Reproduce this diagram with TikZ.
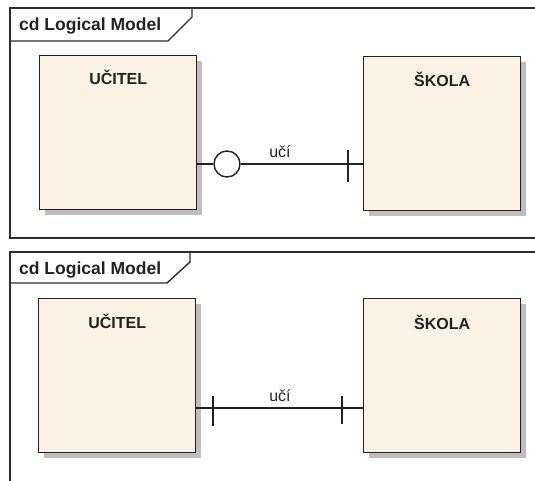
\documentclass[tikz,border=0pt]{standalone}
\usepackage{fontspec}
\setmainfont{Liberation Sans}
\usetikzlibrary{shadows,calc}
\definecolor{entityfill}{RGB}{251,241,228}
\definecolor{inkdark}{RGB}{34,34,34}
\definecolor{framegray}{RGB}{45,45,45}
\definecolor{shadowgray}{RGB}{190,190,190}
\tikzset{
  frameline/.style={draw=framegray, line width=1.4pt},
  entity/.style={draw=inkdark, line width=1.4pt, fill=entityfill, rectangle,
    inner sep=0pt, minimum width=157pt, minimum height=154pt, anchor=north west,
    drop shadow={shadow xshift=5pt, shadow yshift=-5pt, fill=shadowgray, opacity=1}},
  entname/.style={font=\fontsize{16}{19}\selectfont\bfseries, text=inkdark, anchor=base, inner sep=0pt},
  tabtext/.style={font=\fontsize{17.5}{20}\selectfont\bfseries, text=inkdark, anchor=base west, inner sep=0pt},
  reltext/.style={font=\fontsize{16}{19}\selectfont, text=inkdark, anchor=base, inner sep=0pt},
  relline/.style={draw=inkdark, line width=1.4pt},
  zeromark/.style={circle, draw=inkdark, line width=1.4pt, fill=white, minimum size=26pt, inner sep=0pt},
}
\begin{document}
\begin{tikzpicture}[x=1pt, y=-1pt]
\useasboundingbox (0,0) rectangle (535,480);

% ---- upper diagram frame ----
\draw[frameline] (540,8) -- (10,8) -- (10,238) -- (540,238);
\draw[frameline] (192,8) -- (192,17) -- (168,41) -- (10,41);
\node[tabtext] (tab1) at (19,30) {cd Logical Model};

% ---- lower diagram frame ----
\draw[frameline] (540,252) -- (10,252) -- (10,485);
\draw[frameline] (190,252) -- (190,262) -- (167,283) -- (10,283);
\node[tabtext] (tab2) at (19,274) {cd Logical Model};

% ---- upper entities ----
\node[entity] (u1) at (39,55) {};
\node[entity] (s1) at (363,56) {};
\node[entname] (n1) at ($(u1.north)+(0,29)$) {UČITEL};
\node[entname] (n2) at ($(s1.north)+(0,30)$) {ŠKOLA};

% relationship: zero-or-one on UČITEL side, one on ŠKOLA side
\node[zeromark] (o1) at (227,164) {};
\draw[relline] (u1.east |- o1) -- (o1.west);
\draw[relline] (o1.east) -- (s1.west |- o1);
\coordinate (t1) at (348,164);
\draw[relline] ($(t1)+(0,-14)$) -- ($(t1)+(0,18)$);
\node[reltext] (r1) at (280,157.5) {učí};

% ---- lower entities ----
\node[entity] (u2) at (38,298) {};
\node[entity] (s2) at (363,298) {};
\node[entname] (n3) at ($(u2.north)+(0,30)$) {UČITEL};
\node[entname] (n4) at ($(s2.north)+(0,31)$) {ŠKOLA};

% relationship: one on both sides
\coordinate (m2) at (280,408);
\draw[relline] (u2.east |- m2) -- (s2.west |- m2);
\coordinate (t2a) at (213,408);
\coordinate (t2b) at (342,408);
\draw[relline] ($(t2a)+(0,-12)$) -- ($(t2a)+(0,18)$);
\draw[relline] ($(t2b)+(0,-12)$) -- ($(t2b)+(0,16)$);
\node[reltext] (r2) at (280,401.5) {učí};
\end{tikzpicture}
\end{document}
